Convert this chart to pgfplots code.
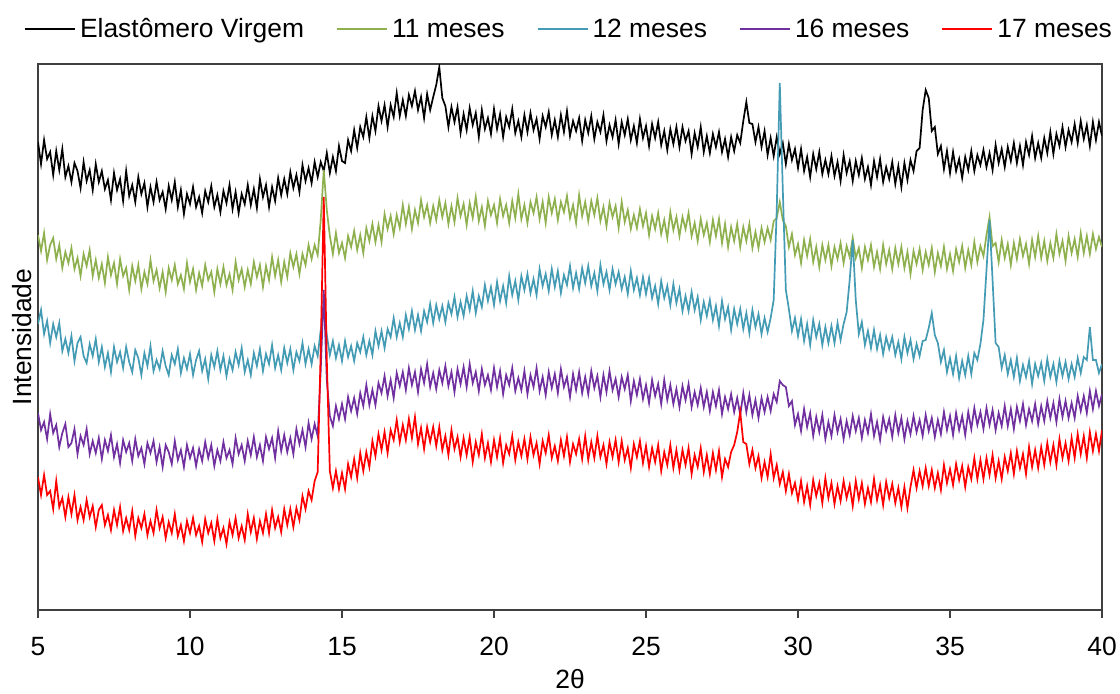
\documentclass[border=0pt]{standalone}
\usepackage{pgfplots}
\pgfplotsset{compat=1.18}
\usepackage{pgfplotstable}
\usepackage{fontspec}
\setmainfont{Liberation Sans}
\usetikzlibrary{calc}
\definecolor{cgreen}{RGB}{142,176,78}
\definecolor{cteal}{RGB}{68,155,180}
\definecolor{cpurple}{RGB}{112,48,160}
\definecolor{cred}{RGB}{255,0,0}
\pgfplotstableread{
x b g t p r
5.0 468 375 286 197 133
5.1 446 359 300 180 115
5.2 470 377 276 188 135
5.3 451 350 289 171 115
5.4 458 365 267 196 119
5.5 435 372 286 177 101
5.6 459 351 273 185 129
5.7 440 365 287 163 103
5.8 461 342 259 177 112
5.9 433 358 271 186 93
6.0 444 347 257 163 113
6.1 428 362 274 167 96
6.2 447 341 249 181 115
6.3 439 352 267 156 90
6.4 422 334 273 174 103
6.5 448 356 254 165 90
6.6 429 344 247 181 110
6.7 440 360 266 156 93
6.8 420 334 254 169 104
6.9 446 350 271 157 83
7.0 428 332 248 172 100
7.1 439 346 263 151 105
7.2 421 327 243 170 85
7.3 430 353 257 159 95
7.4 410 335 238 175 80
7.5 437 347 263 153 100
7.6 420 326 248 166 85
7.7 431 351 258 147 103
7.8 409 334 242 170 79
7.9 439 342 263 158 92
8.0 414 320 248 167 80
8.1 425 344 238 149 99
8.2 408 329 260 171 74
8.3 433 345 252 154 92
8.4 416 321 235 162 82
8.5 427 338 257 146 96
8.6 403 326 244 167 75
8.7 423 350 264 157 89
8.8 408 329 239 169 77
8.9 428 340 250 148 100
9.0 410 322 241 163 82
9.1 418 338 259 143 93
9.2 401 318 244 165 72
9.3 424 342 235 158 88
9.4 410 330 255 146 77
9.5 428 345 246 169 96
9.6 403 326 261 150 74
9.7 420 335 237 160 85
9.8 396 321 252 143 69
9.9 416 347 241 165 89
10.0 406 328 256 152 77
10.1 423 341 235 162 92
10.2 403 320 250 144 75
10.3 413 337 259 161 84
10.4 397 324 239 149 68
10.5 419 345 251 168 91
10.6 408 330 231 152 77
10.7 424 338 255 165 87
10.8 403 318 243 144 69
10.9 415 341 259 160 91
11.0 398 326 240 149 72
11.1 419 343 254 168 82
11.2 407 325 234 152 66
11.3 425 336 251 160 88
11.4 401 320 240 146 75
11.5 418 348 258 172 92
11.6 397 330 245 156 72
11.7 416 341 262 165 84
11.8 406 323 238 149 70
11.9 425 340 250 169 96
12.0 405 326 235 155 78
12.1 421 348 257 173 92
12.2 402 333 244 153 71
12.3 431 345 261 165 89
12.4 413 323 239 149 77
12.5 425 344 256 173 96
12.6 403 330 246 161 77
12.7 423 353 265 172 100
12.8 409 334 242 152 82
12.9 432 350 255 179 93
13.0 415 328 240 159 78
13.1 431 348 262 175 101
13.2 416 333 247 158 85
13.3 438 357 261 172 101
13.4 422 343 240 156 83
13.5 435 356 258 181 102
13.6 418 336 249 166 90
13.7 445 356 267 180 114
13.8 429 345 246 163 101
13.9 442 365 261 187 119
14.0 427 351 246 171 110
14.1 448 365 264 186 129
14.2 433 355 254 174 138
14.3 448 390 280 240 260
14.4 439 440 300 320 413
14.5 457 400 275 230 250
14.6 437 374 255 194 139
14.7 453 356 269 184 122
14.8 439 377 252 204 139
14.9 464 357 265 191 121
15.0 449 367 249 206 137
15.1 447 352 269 191 121
15.2 470 374 253 213 146
15.3 459 363 264 199 133
15.4 480 379 249 212 151
15.5 462 360 267 196 132
15.6 483 375 258 217 157
15.7 473 357 273 204 139
15.8 493 382 255 225 158
15.9 472 369 269 205 143
16.0 494 386 255 220 169
16.1 479 368 279 205 154
16.2 504 385 264 227 176
16.3 489 368 279 217 160
16.4 505 396 262 234 178
16.5 483 381 281 214 157
16.6 505 394 273 230 180
16.7 493 376 292 212 170
16.8 517 395 273 237 190
16.9 494 382 287 224 168
17.0 510 405 273 238 185
17.1 494 386 295 220 170
17.2 515 403 281 242 191
17.3 504 381 299 225 172
17.4 519 400 280 238 193
17.5 500 387 295 218 166
17.6 513 410 279 241 182
17.7 492 393 299 227 161
17.8 516 405 288 246 183
17.9 500 387 306 223 168
18.0 513 404 287 237 183
18.1 525 390 305 221 164
18.2 543 410 291 240 183
18.3 512 393 304 227 160
18.4 504 407 288 244 174
18.5 483 386 307 224 155
18.6 503 404 296 238 180
18.7 488 388 313 218 161
18.8 503 412 293 241 173
18.9 477 394 308 226 153
19.0 496 406 294 243 172
19.1 480 385 314 223 155
19.2 502 407 300 246 173
19.3 485 392 319 227 148
19.4 497 413 297 238 168
19.5 473 389 314 219 155
19.6 500 403 303 241 176
19.7 481 384 325 225 152
19.8 492 409 309 235 167
19.9 476 395 323 220 148
20.0 501 405 305 242 170
20.1 481 387 328 223 153
20.2 496 411 309 239 172
20.3 473 394 324 216 147
20.4 493 405 307 235 165
20.5 483 387 334 225 156
20.6 501 409 315 242 174
20.7 477 392 329 219 150
20.8 489 416 310 232 168
20.9 473 391 334 220 154
21.0 495 405 320 239 171
21.1 478 387 336 216 151
21.2 497 408 317 235 173
21.3 480 397 331 223 155
21.4 491 413 315 242 167
21.5 471 391 341 219 146
21.6 494 408 324 233 169
21.7 483 387 336 215 157
21.8 498 413 319 238 175
21.9 475 397 341 222 152
22.0 490 411 323 236 164
22.1 473 390 339 217 149
22.2 495 408 317 241 170
22.3 478 398 335 223 154
22.4 499 414 325 233 173
22.5 474 392 344 213 148
22.6 489 405 322 236 166
22.7 479 387 337 220 156
22.8 492 415 321 238 171
22.9 469 394 342 217 151
23.0 490 408 327 233 174
23.1 477 389 344 216 150
23.2 494 409 324 239 168
23.3 471 395 337 222 152
23.4 488 412 319 234 174
23.5 478 389 345 213 153
23.6 495 403 326 235 165
23.7 469 384 338 218 146
23.8 485 407 320 239 168
23.9 473 393 341 220 153
24.0 490 404 326 231 170
24.1 466 382 338 213 148
24.2 488 408 321 233 169
24.3 475 388 333 221 150
24.4 491 400 316 235 162
24.5 470 381 339 209 142
24.6 484 395 320 229 166
24.7 467 382 332 215 153
24.8 491 401 315 231 169
24.9 472 384 333 211 147
25.0 484 397 316 225 164
25.1 464 375 332 207 143
25.2 486 394 312 230 162
25.3 472 381 324 214 148
25.4 488 397 306 226 165
25.5 465 376 329 206 139
25.6 479 390 312 230 158
25.7 460 372 324 210 145
25.8 481 398 305 225 165
25.9 466 380 326 206 142
26.0 483 393 307 221 160
26.1 463 374 321 203 140
26.2 483 393 299 224 160
26.3 469 381 314 210 145
26.4 479 397 299 226 162
26.5 456 374 318 203 136
26.6 477 387 300 218 155
26.7 463 369 313 205 143
26.8 483 391 290 222 162
26.9 458 375 308 203 138
27.0 474 387 294 218 155
27.1 457 368 310 199 136
27.2 476 390 290 218 157
27.3 463 374 304 204 140
27.4 478 391 284 220 159
27.5 458 367 309 196 133
27.6 471 386 291 213 151
27.7 453 363 303 201 143
27.8 473 383 280 216 158
27.9 459 369 301 198 165
28.0 475 386 286 212 178
28.1 467 363 301 195 198
28.2 489 383 281 217 168
28.3 508 369 297 198 166
28.4 487 386 277 215 146
28.5 486 362 300 195 160
28.6 468 378 283 210 142
28.7 483 362 296 192 154
28.8 463 382 276 212 132
28.9 479 368 292 198 148
29.0 455 382 278 213 133
29.1 472 370 292 199 156
29.2 454 389 310 216 132
29.3 473 392 400 208 145
29.4 456 408 527 229 126
29.5 467 390 420 225 138
29.6 446 384 320 223 119
29.7 466 363 301 204 136
29.8 450 376 279 209 117
29.9 461 355 292 185 127
30.0 442 366 274 196 110
30.1 461 347 291 179 129
30.2 439 370 269 201 108
30.3 453 354 286 183 124
30.4 433 371 265 197 105
30.5 456 348 290 174 130
30.6 441 363 273 193 114
30.7 458 343 286 178 127
30.8 436 365 265 195 107
30.9 450 350 283 171 132
31.0 436 365 267 188 112
31.1 454 344 284 174 127
31.2 434 363 267 195 106
31.3 448 351 287 178 124
31.4 429 367 270 191 109
31.5 455 347 286 171 129
31.6 437 364 298 189 112
31.7 449 353 330 175 125
31.8 429 372 370 194 104
31.9 449 352 310 179 129
32.0 435 362 276 192 111
32.1 452 342 288 172 127
32.2 431 363 265 190 106
32.3 443 350 279 177 122
32.4 425 365 262 196 108
32.5 449 343 280 174 131
32.6 433 358 261 188 110
32.7 451 341 275 170 125
32.8 428 365 256 193 105
32.9 443 346 273 179 128
33.0 431 360 261 191 112
33.1 448 341 273 173 126
33.2 426 362 255 195 107
33.3 444 346 268 177 122
33.4 423 363 251 192 103
33.5 447 342 273 171 123
33.6 430 358 257 189 102
33.7 450 336 270 176 123
33.8 439 359 251 194 140
33.9 459 346 266 178 122
34.0 462 361 254 190 139
34.1 500 340 269 174 124
34.2 520 358 270 195 142
34.3 512 345 282 179 124
34.4 479 362 297 192 140
34.5 483 338 275 173 122
34.6 456 357 267 190 137
34.7 464 344 248 176 120
34.8 441 363 260 198 145
34.9 459 341 238 180 127
35.0 437 356 252 194 141
35.1 458 339 236 175 125
35.2 439 361 254 197 146
35.3 451 348 232 180 130
35.4 432 364 249 194 144
35.5 453 342 235 175 123
35.6 440 360 254 198 143
35.7 459 345 236 181 131
35.8 439 368 257 202 152
35.9 455 348 250 185 131
36.0 445 364 266 198 150
36.1 460 354 290 181 131
36.2 443 375 340 202 152
36.3 457 393 390 185 135
36.4 440 364 330 200 155
36.5 465 367 267 180 132
36.6 447 348 263 197 149
36.7 461 370 242 184 131
36.8 443 352 255 204 153
36.9 463 366 236 184 139
37.0 449 345 250 201 157
37.1 467 367 233 181 136
37.2 447 351 252 203 159
37.3 464 371 229 189 142
37.4 445 354 245 206 156
37.5 468 366 233 185 136
37.6 455 346 249 201 163
37.7 474 370 226 189 143
37.8 452 353 246 206 160
37.9 467 374 234 186 142
38.0 452 352 247 204 163
38.1 472 369 229 189 145
38.2 457 349 251 209 167
38.3 478 367 233 192 148
38.4 456 352 246 207 165
38.5 476 376 228 188 145
38.6 464 356 249 211 171
38.7 483 369 234 193 152
38.8 463 349 248 209 167
38.9 480 374 231 192 149
39.0 468 357 246 207 172
39.1 486 371 233 192 152
39.2 467 353 252 214 176
39.3 489 377 237 199 156
39.4 471 357 253 214 174
39.5 485 374 250 197 152
39.6 464 356 283 219 178
39.7 488 376 250 201 159
39.8 470 361 250 219 176
39.9 488 373 237 204 159
40.0 474 363 246 216 180
}\xrd

\newcommand{\lblfont}{\fontsize{13.2}{15.8}\selectfont}

\begin{document}
\begin{tikzpicture}
\begin{axis}[
  name=ax,
  scale only axis,
  width=532pt, height=273pt,
  xmin=5, xmax=40, ymin=0, ymax=546,
  xtick={5,10,15,20,25,30,35,40},
  ytick=\empty,
  xtick pos=left,
  tick align=outside,
  major tick length=4pt,
  tick style={black!75, line width=0.8pt},
  axis line style={black!75, line width=0.8pt},
  /pgf/number format/assume math mode=true,
  tick label style={font=\lblfont},
  xticklabel style={yshift=-6pt},
  xlabel={2θ},
  xlabel style={at={(axis description cs:0.5,0)}, anchor=base, yshift=-39pt, font=\lblfont},
  ylabel={Intensidade},
  ylabel style={at={(axis description cs:0,0.5)}, anchor=south, inner sep=3pt, font=\lblfont},
  legend style={at={(axis description cs:0.5,1)}, anchor=south, yshift=7.5pt,
    draw=none, fill=none, font=\lblfont, legend columns=5,
    /tikz/every even column/.append style={column sep=14pt}},
  legend image code/.code={\draw[#1, line width=1pt] (0pt,0pt) -- (25pt,0pt);},
]
\addplot[color=black, line width=0.85pt] table[x=x, y=b]{\xrd};
\addlegendentry{Elastômero Virgem}
\addplot[color=cgreen, line width=0.85pt] table[x=x, y=g]{\xrd};
\addlegendentry{11 meses}
\addplot[color=cteal, line width=0.85pt] table[x=x, y=t]{\xrd};
\addlegendentry{12 meses}
\addplot[color=cpurple, line width=0.85pt] table[x=x, y=p]{\xrd};
\addlegendentry{16 meses}
\addplot[color=cred, line width=0.85pt] table[x=x, y=r]{\xrd};
\addlegendentry{17 meses}
\end{axis}
\pgfresetboundingbox
\path[use as bounding box] ($(ax.south west)+(-19pt,-41.5pt)$) rectangle ($(ax.north east)+(9pt,32pt)$);
\end{tikzpicture}
\end{document}
